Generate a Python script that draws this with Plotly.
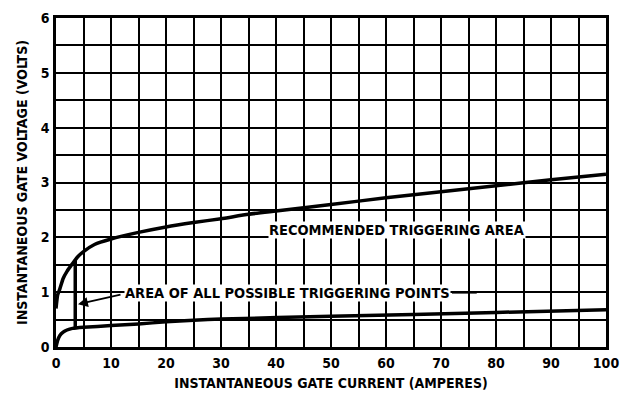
import plotly.graph_objects as go

# Gate current (A) vs. gate voltage (V) boundaries of the triggering region
upper_current = [0, 0.3, 0.7, 1.3, 2, 3, 4, 5, 7, 10, 15, 20, 25, 30, 35, 40,
                 50, 60, 70, 80, 90, 100]
upper_voltage = [0.7, 0.95, 1.06, 1.25, 1.38, 1.52, 1.65, 1.74, 1.87, 1.97, 2.09,
                 2.19, 2.27, 2.34, 2.42, 2.48, 2.6, 2.72, 2.83, 2.94, 3.05, 3.15]

lower_current = [0, 0.3, 0.7, 1.3, 2, 3, 5, 10, 15, 20, 25, 30, 50, 80, 100]
lower_voltage = [0, 0.12, 0.21, 0.27, 0.31, 0.34, 0.36, 0.39, 0.42, 0.46, 0.49,
                 0.51, 0.56, 0.63, 0.68]

# Vertical boundary of the possible-triggering-points area
edge_current = [3.5, 3.5]
edge_voltage = [0.34, 1.58]

x_ticks = [0, 10, 20, 30, 40, 50, 60, 70, 80, 90, 100]
y_ticks = [0, 1, 2, 3, 4, 5, 6]

# Label anchor points (data units)
recommended_label = (62, 2.14)
possible_label = (42, 0.98)
arrow_tip = (4.0, 0.78)
arrow_tail = (12, 0.96)
leader_line = ([72, 76.5], [0.99, 0.99])

FONT = "Liberation Sans Narrow, DejaVu Sans Condensed, Arial Narrow, sans-serif"

fig = go.Figure()
curve_style = dict(color="black", width=3.5)
fig.add_trace(go.Scatter(x=upper_current, y=upper_voltage, mode="lines",
                         line=dict(shape="spline", smoothing=0.5, **curve_style)))
fig.add_trace(go.Scatter(x=lower_current, y=lower_voltage, mode="lines",
                         line=dict(shape="spline", smoothing=0.5, **curve_style)))
fig.add_trace(go.Scatter(x=edge_current, y=edge_voltage, mode="lines",
                         line=dict(color="black", width=3.5)))
fig.add_trace(go.Scatter(x=leader_line[0], y=leader_line[1], mode="lines",
                         line=dict(color="black", width=1.8)))

label_font = dict(family=FONT, size=14.5, color="black", weight="bold")
fig.add_annotation(x=recommended_label[0], y=recommended_label[1],
                   text="RECOMMENDED TRIGGERING AREA", showarrow=False,
                   bgcolor="white", borderpad=0, font=label_font)
fig.add_annotation(x=possible_label[0], y=possible_label[1],
                   text="AREA OF ALL POSSIBLE TRIGGERING POINTS", showarrow=False,
                   bgcolor="white", borderpad=0, font=label_font)
fig.add_annotation(x=arrow_tip[0], y=arrow_tip[1], ax=arrow_tail[0], ay=arrow_tail[1],
                   axref="x", ayref="y", xref="x", yref="y", text="",
                   showarrow=True, arrowhead=2, arrowsize=1.1, arrowwidth=1.8,
                   arrowcolor="black", standoff=0)

axis_font = dict(family=FONT, size=14, color="black", weight="bold")
grid = dict(showgrid=True, gridcolor="black", gridwidth=2)

fig.update_xaxes(range=[0, 100], tickvals=x_ticks, ticks="", ticklabelstandoff=1,
                 minor=dict(dtick=5, showgrid=True, gridcolor="black", gridwidth=2),
                 showline=True, linecolor="black", linewidth=2.5, mirror=True,
                 zeroline=False, tickfont=axis_font, automargin=False,
                 title=dict(text="INSTANTANEOUS GATE CURRENT (AMPERES)", font=axis_font, standoff=9),
                 **grid)
fig.update_yaxes(range=[0, 6], tickvals=y_ticks, ticks="", ticklabelstandoff=1,
                 minor=dict(dtick=0.5, showgrid=True, gridcolor="black", gridwidth=2),
                 showline=True, linecolor="black", linewidth=2.5, mirror=True,
                 zeroline=False, tickfont=axis_font, automargin=False,
                 title=dict(text="INSTANTANEOUS GATE VOLTAGE (VOLTS)", font=axis_font, standoff=10),
                 **grid)

fig.update_layout(width=620, height=395, showlegend=False,
                  margin=dict(l=56, r=14, t=18, b=48),
                  paper_bgcolor="white", plot_bgcolor="white")

fig.write_html("out.html")
